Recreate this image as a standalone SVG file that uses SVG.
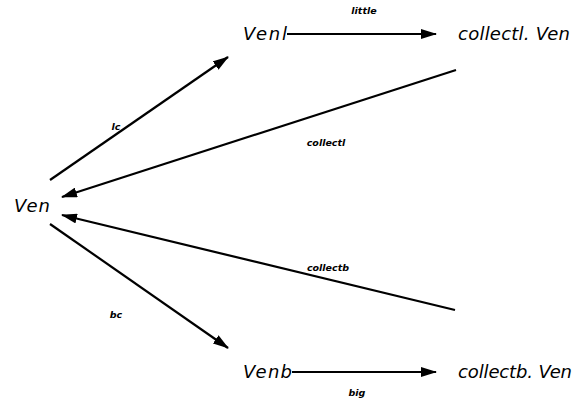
<svg xmlns="http://www.w3.org/2000/svg" width="575" height="399" viewBox="0 0 575 399">
<style>
.node{font-family:"DejaVu Sans","Liberation Sans",sans-serif;font-style:italic;font-size:18px;fill:#000}
.lbl{font-family:"DejaVu Sans","Liberation Sans",sans-serif;font-style:italic;font-weight:bold;font-size:9.5px;fill:#000}
.edge{stroke:#000;stroke-width:2.2;fill:none;marker-end:url(#ah)}
</style>
<defs>
<marker id="ah" markerWidth="16" markerHeight="10" refX="15" refY="5" orient="auto" markerUnits="userSpaceOnUse" viewBox="0 0 16 10">
<path d="M0,0 L16,5 L0,10 Z" fill="#000"/>
</marker>
</defs>
<rect width="575" height="399" fill="#fff"/>
<g id="connectors">
<line class="edge" x1="50" y1="180" x2="228" y2="57"/>
<line class="edge" x1="287" y1="34" x2="436" y2="34"/>
<line class="edge" x1="456" y1="70" x2="62" y2="197"/>
<line class="edge" x1="455" y1="310" x2="62" y2="215"/>
<line class="edge" x1="50" y1="224" x2="228" y2="348"/>
<line class="edge" x1="292" y1="372" x2="436" y2="372"/>
<text class="lbl" x="116" y="130" text-anchor="middle">lc</text>
<text class="lbl" x="364" y="14" text-anchor="middle">little</text>
<text class="lbl" x="326" y="146" text-anchor="middle">collectl</text>
<text class="lbl" x="328" y="271" text-anchor="middle">collectb</text>
<text class="lbl" x="116" y="318" text-anchor="middle">bc</text>
<text class="lbl" x="357" y="396" text-anchor="middle">big</text>
</g>
<g id="Ven"><text class="node" x="14" y="212" textLength="36" lengthAdjust="spacing">Ven</text></g>
<g id="Venl"><text class="node" x="243" y="40" textLength="44" lengthAdjust="spacing">Venl</text></g>
<g id="collectl.Ven"><text class="node" x="458" y="40" textLength="112" lengthAdjust="spacing">collectl. Ven</text></g>
<g id="Venb"><text class="node" x="243" y="378" textLength="49" lengthAdjust="spacing">Venb</text></g>
<g id="collectb.Ven"><text class="node" x="458" y="378" textLength="114" lengthAdjust="spacing">collectb. Ven</text></g>
</svg>
